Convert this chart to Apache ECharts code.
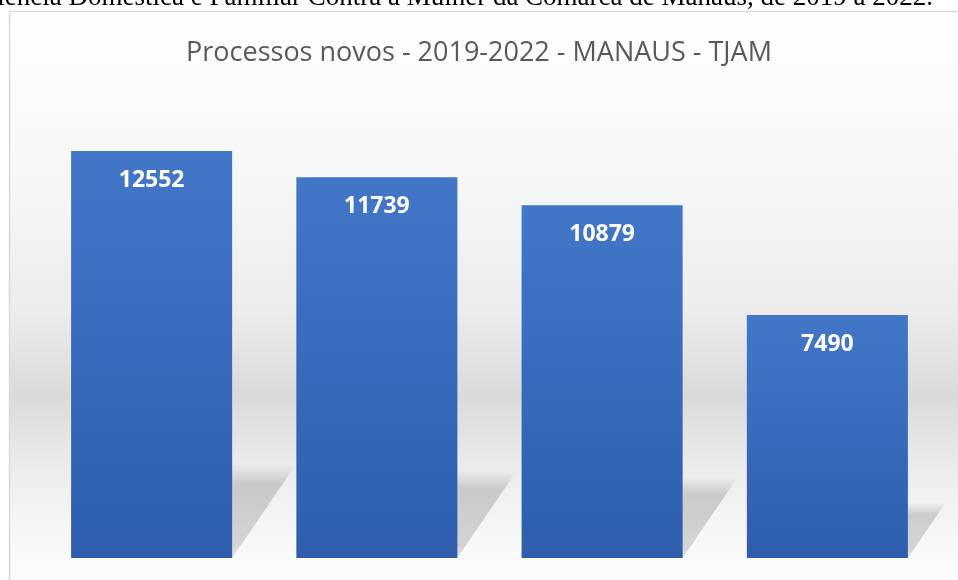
<!DOCTYPE html>
<html>
<head>
<meta charset="utf-8">
<script src="https://cdn.jsdelivr.net/npm/echarts@6/dist/echarts.min.js"></script>
<style>
    html, body { margin: 0; padding: 0; background: #fff; }
    #chart { width: 958px; height: 580px; }
</style>
</head>
<body>
<div id="chart"></div>
<script>
var categories = ['2019', '2020', '2021', '2022'];
var values = [12552, 11739, 10879, 7490];
var yMax = 14000;
var titleText = 'Processos novos - 2019-2022 - MANAUS - TJAM';
var captionText = 'Violência Doméstica e Familiar Contra a Mulher da Comarca de Manaus, de 2019 a 2022.';

var barRatio = 0.715;   // bar width / category width
var shadowRatio = 0.23; // shadow height / bar height

var chart = echarts.init(document.getElementById('chart'));

// floor shadow behind each bar, slanted to the right
function renderShadow(params, api) {
    var idx = api.value(0);
    var val = api.value(1);
    var base = api.coord([idx, 0]);
    var top = api.coord([idx, val * shadowRatio]);
    var w = api.size([1, 0])[0] * barRatio;
    var xl = base[0] - w / 2;
    var xr = base[0] + w / 2;
    var h = base[1] - top[1];
    var dx = h * 0.68;
    return {
        type: 'polygon',
        shape: {
            points: [[xl, base[1]], [xr, base[1]], [xr + dx, top[1]], [xl + dx, top[1]]]
        },
        style: {
            fill: new echarts.graphic.LinearGradient(0, 0, 0, 1, [
                { offset: 0, color: 'rgba(0,0,0,0)' },
                { offset: 0.22, color: 'rgba(0,0,0,0.16)' },
                { offset: 0.85, color: 'rgba(0,0,0,0.15)' },
                { offset: 1, color: 'rgba(0,0,0,0.08)' }
            ])
        }
    };
}

var option = {
    animation: false,
    graphic: [{
        type: 'rect',
        z: -10,
        shape: { x: 9.5, y: 11.5, width: 960, height: 600 },
        style: {
            fill: new echarts.graphic.LinearGradient(0, 0, 0, 1, [
                { offset: 0, color: '#ffffff' },
                { offset: 0.3, color: '#f6f6f6' },
                { offset: 0.5, color: '#ececec' },
                { offset: 0.64, color: '#dadada' },
                { offset: 0.76, color: '#ececec' },
                { offset: 0.88, color: '#f8f8f8' },
                { offset: 1, color: '#ffffff' }
            ]),
            stroke: '#d9d9d9',
            lineWidth: 1.5
        }
    }, {
        type: 'text',
        z: 10,
        right: 25,
        top: -16,
        style: {
            text: captionText,
            font: '27px "Liberation Serif"',
            fill: '#000'
        }
    }],
    title: {
        text: titleText,
        left: 'center',
        top: 35,
        textStyle: {
            fontFamily: 'Open Sans',
            fontSize: 27,
            fontWeight: 'normal',
            color: '#595959'
        }
    },
    grid: { left: 39, right: 18, top: 104, bottom: 22 },
    xAxis: {
        type: 'category',
        data: categories,
        show: false
    },
    yAxis: {
        type: 'value',
        min: 0,
        max: yMax,
        show: false
    },
    series: [{
        type: 'custom',
        z: 1,
        silent: true,
        renderItem: renderShadow,
        data: values.map(function(v, i) { return [i, v]; })
    }, {
        type: 'bar',
        z: 2,
        data: values,
        barWidth: (barRatio * 100) + '%',
        itemStyle: {
            color: new echarts.graphic.LinearGradient(0, 0, 0, 1, [
                { offset: 0, color: '#4277c8' },
                { offset: 1, color: '#2e5ead' }
            ])
        },
        label: {
            show: true,
            position: 'insideTop',
            distance: 18,
            color: '#fff',
            fontFamily: 'Open Sans',
            fontWeight: 'bold',
            fontSize: 23
        }
    }]
};
chart.setOption(option);
</script>
</body>
</html>
